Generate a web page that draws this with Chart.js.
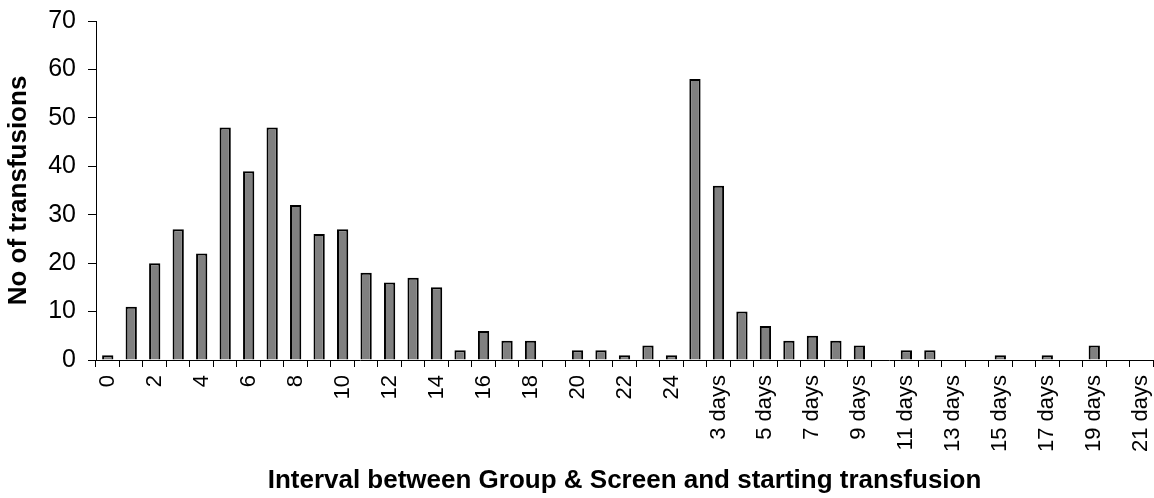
<!DOCTYPE html>
<html>
<head>
<meta charset="utf-8">
<script src="https://cdn.jsdelivr.net/npm/chart.js@4/dist/chart.umd.min.js"></script>
<style>
  html, body { margin: 0; padding: 0; background: #fff; }
  #wrap { width: 1154px; height: 498px; }
</style>
</head>
<body>
<div id="wrap"><canvas id="c"></canvas></div>
<script>
// hours 0-24, then days
const hourLabels = ['0','1','2','3','4','5','6','7','8','9','10','11','12',
  '13','14','15','16','17','18','19','20','21','22','23','24'];
const dayLabels = ['2 days','3 days','4 days','5 days','6 days','7 days','8 days',
  '9 days','10 days','11 days','12 days','13 days','14 days','15 days','16 days',
  '17 days','18 days','19 days','20 days','21 days'];
const hourCounts = [1, 11, 20, 27, 22, 48, 39, 48, 32, 26, 27, 18, 16,
  17, 15, 2, 6, 4, 4, 0, 2, 2, 1, 3, 1];
const dayCounts = [58, 36, 10, 7, 4, 5, 4, 3, 0, 2, 2, 0, 0, 1, 0, 1, 0, 3, 0, 0];
const yTicks = [0, 10, 20, 30, 40, 50, 60, 70];

const labels = hourLabels.concat(dayLabels);
const counts = hourCounts.concat(dayCounts);

Chart.defaults.font.family = '"Liberation Sans", Arial, sans-serif';
Chart.defaults.color = '#000';

new Chart(document.getElementById('c'), {
  type: 'bar',
  data: {
    labels: labels,
    datasets: [{
      data: counts,
      backgroundColor: '#808080',
      borderColor: '#000',
      borderWidth: 2,
      barPercentage: 1,
      categoryPercentage: 0.48
    }]
  },
  options: {
    responsive: true,
    maintainAspectRatio: false,
    animation: false,
    layout: { padding: { top: 21, right: 1, left: 0, bottom: 0 } },
    plugins: {
      legend: { display: false },
      tooltip: { enabled: false }
    },
    scales: {
      x: {
        grid: { display: true, drawOnChartArea: false, color: '#000', tickLength: 7, offset: true },
        border: { color: '#000', width: 1 },
        ticks: {
          autoSkip: false,
          maxRotation: 90,
          minRotation: 90,
          padding: 8,
          font: { size: 22 },
          callback: function(v, i) { return i % 2 === 0 ? labels[i] : ''; }
        },
        title: {
          display: true,
          text: 'Interval between Group & Screen and starting transfusion',
          font: { size: 26, weight: 'bold' },
          padding: { top: 0, bottom: 2 }
        },
        afterFit: function(s) {
          s.height = 138;
          s.paddingLeft = 0;
          s.paddingRight = 0;
        }
      },
      y: {
        min: 0,
        max: 70,
        afterBuildTicks: function(s) { s.ticks = yTicks.map(v => ({ value: v })); },
        grid: { display: true, drawOnChartArea: false, color: '#000', tickLength: 8 },
        border: { color: '#000', width: 1 },
        ticks: { padding: 12, font: { size: 25 } },
        title: {
          display: true,
          text: 'No of transfusions',
          font: { size: 26, weight: 'bold' },
          padding: { top: 3, bottom: 0 }
        },
        afterFit: function(s) {
          s.width = 96;
          s.paddingTop = 0;
          s.paddingBottom = 0;
        }
      }
    }
  }
});
</script>
</body>
</html>
